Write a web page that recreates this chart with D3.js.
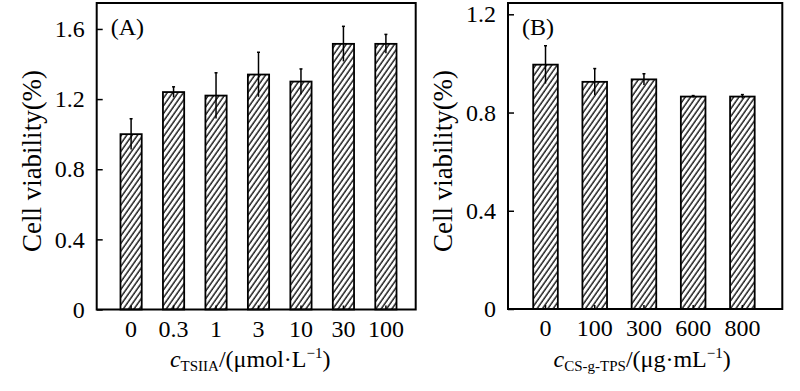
<!DOCTYPE html>
<html>
<head>
<meta charset="utf-8">
<script src="https://cdn.jsdelivr.net/npm/d3@7"></script>
<style>
  body { margin: 0; background: #fff; }
  svg { display: block; font-family: "Liberation Serif", "DejaVu Serif", serif; }
</style>
</head>
<body>
<svg id="chart" width="800" height="391"></svg>
<script>
// panel A: TSIIA
const catsA = ["0", "0.3", "1", "3", "10", "30", "100"];
const valsA = [1.00, 1.24, 1.22, 1.34, 1.30, 1.515, 1.515];
const errA = [0.088, 0.03, 0.13, 0.127, 0.072, 0.10, 0.054];
const ticksA = [0, 0.4, 0.8, 1.2, 1.6];

// panel B: CS-g-TPS
const catsB = ["0", "100", "300", "600", "800"];
const valsB = [0.995, 0.925, 0.935, 0.865, 0.865];
const errB = [0.077, 0.054, 0.023, 0.004, 0.008];
const ticksB = [0, 0.4, 0.8, 1.2];

const svg = d3.select("#chart");
const fs = 24;

const defs = svg.append("defs");
const pat = defs.append("pattern")
    .attr("id", "hatch")
    .attr("patternUnits", "userSpaceOnUse")
    .attr("width", 4.4)
    .attr("height", 10)
    .attr("patternTransform", "rotate(35)");
pat.append("rect").attr("width", 4.4).attr("height", 10).attr("fill", "#fff");
pat.append("line")
    .attr("x1", 1).attr("x2", 1).attr("y1", 0).attr("y2", 10)
    .attr("stroke", "#000").attr("stroke-width", 1.3);

const fmt = d => d === 0 ? "0" : d.toFixed(1);

function drawPanel(cfg) {
    const g = svg.append("g");

    const x = d3.scaleBand()
        .domain(cfg.cats)
        .range(cfg.band)
        .padding(0.5);

    const y = d3.scaleLinear()
        .domain([0, cfg.ymax])
        .range([cfg.bottom, cfg.top]);

    // bars
    g.selectAll("rect.bar")
        .data(cfg.cats)
        .join("rect")
        .attr("class", "bar")
        .attr("x", d => x(d))
        .attr("width", x.bandwidth())
        .attr("y", (d, i) => y(cfg.vals[i]))
        .attr("height", (d, i) => y(0) - y(cfg.vals[i]))
        .attr("fill", "url(#hatch)")
        .attr("stroke", "#000")
        .attr("stroke-width", 1.8);

    // error bars
    const eb = g.selectAll("g.err")
        .data(cfg.cats)
        .join("g")
        .attr("class", "err");
    eb.append("line")
        .attr("x1", d => x(d) + x.bandwidth() / 2)
        .attr("x2", d => x(d) + x.bandwidth() / 2)
        .attr("y1", (d, i) => y(cfg.vals[i] - cfg.errs[i]))
        .attr("y2", (d, i) => y(cfg.vals[i] + cfg.errs[i]))
        .attr("stroke", "#000")
        .attr("stroke-width", 1.5);
    eb.append("line")
        .attr("x1", d => x(d) + x.bandwidth() / 2 - 1.5)
        .attr("x2", d => x(d) + x.bandwidth() / 2 + 1.5)
        .attr("y1", (d, i) => y(cfg.vals[i] + cfg.errs[i]))
        .attr("y2", (d, i) => y(cfg.vals[i] + cfg.errs[i]))
        .attr("stroke", "#000")
        .attr("stroke-width", 1.5);

    // axes
    const yAxis = g.append("g")
        .attr("transform", `translate(${cfg.left},0)`)
        .call(d3.axisLeft(y).tickValues(cfg.ticks).tickFormat(fmt)
            .tickSizeInner(-6).tickSizeOuter(0).tickPadding(12));
    yAxis.select(".domain").remove();
    yAxis.selectAll("line").attr("stroke-width", 1.5);
    yAxis.selectAll("text").attr("font-size", fs).attr("fill", "#000")
        .attr("font-family", "Liberation Serif");

    const xAxis = g.append("g")
        .attr("transform", `translate(0,${cfg.bottom})`)
        .call(d3.axisBottom(x).tickSizeInner(-4).tickSizeOuter(0).tickPadding(10));
    xAxis.select(".domain").remove();
    xAxis.selectAll("line").attr("stroke-width", 1.5);
    xAxis.selectAll("text").attr("font-size", fs).attr("fill", "#000")
        .attr("font-family", "Liberation Serif");

    // frame
    g.append("rect")
        .attr("x", cfg.left)
        .attr("y", cfg.top)
        .attr("width", cfg.right - cfg.left)
        .attr("height", cfg.bottom - cfg.top)
        .attr("fill", "none")
        .attr("stroke", "#000")
        .attr("stroke-width", 2);

    // panel tag
    g.append("text")
        .attr("x", cfg.left + 14)
        .attr("y", cfg.top + 32)
        .attr("font-size", fs)
        .text(cfg.tag);

    // y label
    g.append("text")
        .attr("transform", `translate(${cfg.ylabX},161) rotate(-90)`)
        .attr("text-anchor", "middle")
        .attr("font-size", 27)
        .text("Cell viability(%)");

    // x label
    const xl = g.append("text")
        .attr("x", (cfg.left + cfg.right) / 2 + cfg.xlabShift)
        .attr("y", 367)
        .attr("text-anchor", "middle")
        .attr("font-size", fs);
    xl.append("tspan").attr("font-style", "italic").text("c");
    xl.append("tspan").attr("font-size", 15).attr("dy", 4).text(cfg.sub);
    xl.append("tspan").attr("dy", -4).text(cfg.unit);
    xl.append("tspan").attr("font-size", 15).attr("dy", -9).text("\u22121");
    xl.append("tspan").attr("dy", 9).text(")");
}

drawPanel({
    cats: catsA, vals: valsA, errs: errA, ticks: ticksA,
    left: 96.7, right: 415.7, top: 3, bottom: 309.5,
    band: [99.25, 417.75], ymax: 1.748,
    tag: "(A)", ylabX: 41, xlabShift: -6,
    sub: "TSIIA", unit: "/(\u03bcmol\u00b7L"
});

drawPanel({
    cats: catsB, vals: valsB, errs: errB, ticks: ticksB,
    left: 508, right: 782.3, top: 3, bottom: 309,
    band: [508.6, 779.3], ymax: 1.246,
    tag: "(B)", ylabX: 452, xlabShift: -3,
    sub: "CS-g-TPS", unit: "/(\u03bcg\u00b7mL"
});
</script>
</body>
</html>
